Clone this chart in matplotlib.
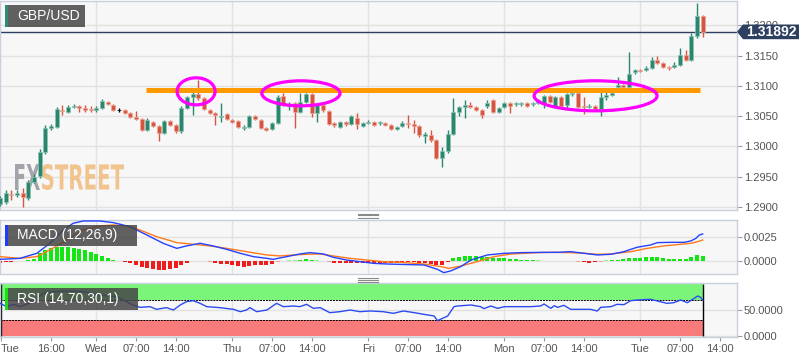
import numpy as np
import matplotlib.pyplot as plt
from matplotlib.patches import Ellipse, Polygon, PathPatch, Rectangle
from matplotlib.lines import Line2D
from matplotlib.textpath import TextPath
from matplotlib.font_manager import FontProperties
from matplotlib.transforms import Affine2D

plt.rcParams['font.family'] = ['Liberation Sans', 'DejaVu Sans']

W, H = 808, 363

# hourly candles; x = hours counted from Tue 00:00 of the first day (weekend gap removed)
hours = list(range(7, 132))
opens = [1.2905, 1.2908, 1.2922, 1.2920, 1.2923, 1.2915, 1.2941, 1.2951, 1.2991, 1.3031,
         1.3032, 1.3060, 1.3057, 1.3065, 1.3067, 1.3064, 1.3062, 1.3060, 1.3064, 1.3074,
         1.3069, 1.3060, 1.3060, 1.3055, 1.3049, 1.3045, 1.3027, 1.3041, 1.3034, 1.3022,
         1.3042, 1.3036, 1.3026, 1.3064, 1.3082, 1.3087, 1.3080, 1.3060, 1.3055, 1.3049,
         1.3054, 1.3044, 1.3042, 1.3031, 1.3032, 1.3050, 1.3044, 1.3031, 1.3029, 1.3039,
         1.3083, 1.3067, 1.3072, 1.3057, 1.3074, 1.3087, 1.3055, 1.3069, 1.3059, 1.3039,
         1.3032, 1.3041, 1.3037, 1.3047, 1.3034, 1.3039, 1.3041, 1.3039, 1.3039, 1.3036,
         1.3029, 1.3034, 1.3039, 1.3037, 1.3034, 1.3017, 1.3019, 1.3011, 1.2981, 1.2993,
         1.3021, 1.3057, 1.3065, 1.3069, 1.3065, 1.3060, 1.3067, 1.3077, 1.3057, 1.3065,
         1.3072, 1.3070, 1.3070, 1.3072, 1.3070, 1.3072, 1.3072, 1.3083, 1.3067, 1.3082,
         1.3069, 1.3087, 1.3088, 1.3067, 1.3065, 1.3067, 1.3062, 1.3082, 1.3085, 1.3098,
         1.3102, 1.3098, 1.3123, 1.3126, 1.3126, 1.3130, 1.3143, 1.3138, 1.3131, 1.3131,
         1.3135, 1.3151, 1.3143, 1.3183, 1.3216]
highs = [1.2918, 1.2928, 1.2928, 1.2928, 1.2931, 1.2945, 1.2955, 1.2996, 1.3036, 1.3037,
         1.3065, 1.3069, 1.3069, 1.3070, 1.3069, 1.3069, 1.3067, 1.3067, 1.3079, 1.3075,
         1.3070, 1.3064, 1.3062, 1.3057, 1.3059, 1.3047, 1.3047, 1.3042, 1.3036, 1.3044,
         1.3044, 1.3037, 1.3067, 1.3083, 1.3090, 1.3110, 1.3082, 1.3062, 1.3057, 1.3072,
         1.3055, 1.3045, 1.3044, 1.3036, 1.3052, 1.3052, 1.3045, 1.3032, 1.3041, 1.3085,
         1.3088, 1.3074, 1.3074, 1.3088, 1.3088, 1.3088, 1.3070, 1.3070, 1.3060, 1.3041,
         1.3042, 1.3042, 1.3052, 1.3055, 1.3041, 1.3044, 1.3042, 1.3042, 1.3041, 1.3037,
         1.3034, 1.3042, 1.3052, 1.3044, 1.3036, 1.3024, 1.3027, 1.3012, 1.2999, 1.3027,
         1.3080, 1.3067, 1.3077, 1.3074, 1.3067, 1.3062, 1.3077, 1.3079, 1.3065, 1.3074,
         1.3074, 1.3074, 1.3074, 1.3074, 1.3074, 1.3079, 1.3085, 1.3085, 1.3083, 1.3083,
         1.3088, 1.3090, 1.3090, 1.3082, 1.3070, 1.3069, 1.3097, 1.3093, 1.3095, 1.3115,
         1.3103, 1.3156, 1.3128, 1.3128, 1.3133, 1.3148, 1.3150, 1.3140, 1.3133, 1.3140,
         1.3163, 1.3159, 1.3188, 1.3237, 1.3217]
lows = [1.2902, 1.2905, 1.2912, 1.2917, 1.2900, 1.2912, 1.2940, 1.2948, 1.2988, 1.3027,
        1.3031, 1.3052, 1.3055, 1.3064, 1.3057, 1.3057, 1.3057, 1.3057, 1.3062, 1.3069,
        1.3059, 1.3057, 1.3054, 1.3047, 1.3044, 1.3026, 1.3026, 1.3032, 1.3009, 1.3021,
        1.3034, 1.3022, 1.3022, 1.3062, 1.3052, 1.3077, 1.3060, 1.3054, 1.3036, 1.3041,
        1.3044, 1.3039, 1.3031, 1.3027, 1.3031, 1.3044, 1.3029, 1.3026, 1.3027, 1.3037,
        1.3067, 1.3060, 1.3031, 1.3055, 1.3072, 1.3049, 1.3041, 1.3057, 1.3036, 1.3032,
        1.3031, 1.3034, 1.3036, 1.3029, 1.3032, 1.3037, 1.3034, 1.3036, 1.3034, 1.3027,
        1.3027, 1.3032, 1.3031, 1.3022, 1.3016, 1.3006, 1.3007, 1.2979, 1.2966, 1.2989,
        1.3019, 1.3050, 1.3047, 1.3064, 1.3059, 1.3047, 1.3064, 1.3055, 1.3055, 1.3064,
        1.3055, 1.3067, 1.3067, 1.3065, 1.3067, 1.3070, 1.3064, 1.3072, 1.3065, 1.3065,
        1.3062, 1.3083, 1.3064, 1.3054, 1.3064, 1.3060, 1.3050, 1.3077, 1.3083, 1.3097,
        1.3095, 1.3097, 1.3120, 1.3123, 1.3125, 1.3128, 1.3136, 1.3130, 1.3126, 1.3130,
        1.3133, 1.3141, 1.3141, 1.3179, 1.3181]
closes = [1.2915, 1.2923, 1.2920, 1.2923, 1.2917, 1.2941, 1.2950, 1.2991, 1.3031, 1.3034,
          1.3062, 1.3059, 1.3065, 1.3067, 1.3064, 1.3060, 1.3060, 1.3064, 1.3075, 1.3070,
          1.3060, 1.3060, 1.3055, 1.3049, 1.3045, 1.3027, 1.3044, 1.3034, 1.3022, 1.3042,
          1.3036, 1.3026, 1.3064, 1.3082, 1.3087, 1.3080, 1.3062, 1.3055, 1.3052, 1.3050,
          1.3045, 1.3041, 1.3032, 1.3032, 1.3050, 1.3045, 1.3031, 1.3027, 1.3039, 1.3082,
          1.3069, 1.3070, 1.3057, 1.3074, 1.3087, 1.3055, 1.3069, 1.3060, 1.3037, 1.3036,
          1.3041, 1.3037, 1.3050, 1.3037, 1.3039, 1.3041, 1.3036, 1.3040, 1.3036, 1.3029,
          1.3032, 1.3039, 1.3037, 1.3034, 1.3019, 1.3021, 1.3011, 1.2981, 1.2993, 1.3021,
          1.3057, 1.3065, 1.3069, 1.3065, 1.3060, 1.3052, 1.3072, 1.3057, 1.3064, 1.3072,
          1.3067, 1.3071, 1.3071, 1.3067, 1.3071, 1.3077, 1.3083, 1.3074, 1.3082, 1.3067,
          1.3087, 1.3088, 1.3065, 1.3065, 1.3067, 1.3062, 1.3082, 1.3085, 1.3088, 1.3102,
          1.3098, 1.3120, 1.3126, 1.3125, 1.3130, 1.3143, 1.3138, 1.3131, 1.3130, 1.3135,
          1.3151, 1.3143, 1.3183, 1.3216, 1.31892]

# MACD histogram, one bar per candle
macd_hist = [-0.0002, -0.00015, -0.0001, -0.00005, 0.00003, 0.0001, 0.00017, 0.0008, 0.00113, 0.0013,
             0.0014, 0.00148, 0.00144, 0.00137, 0.00127, 0.00113, 0.00093, 0.0007, 0.0005, 0.00034,
             0.0001, 0.00003, -0.0001, -0.00024, -0.0004, -0.00058, -0.00069, -0.00079, -0.00093, -0.00093,
             -0.00086, -0.00069, -0.0004, -0.00017, -0.00003, 0.0, -0.00003, -0.00007, -0.00024, -0.0003,
             -0.00034, -0.0004, -0.00048, -0.00058, -0.0005, -0.0004, -0.0004, -0.00045, -0.00034, -0.00007,
             0.00003, 0.00007, 0.00007, 0.0001, 0.00017, 0.00014, 0.00007, 0.0, -0.00007, -0.00017,
             -0.00024, -0.00024, -0.00024, -0.00024, -0.0002, -0.00017, -0.00017, -0.00017, -0.00017, -0.00017,
             -0.00017, -0.00017, -0.00014, -0.00014, -0.00017, -0.00017, -0.0003, -0.0004, -0.0004, -0.00013,
             0.00027, 0.00045, 0.00055, 0.00055, 0.00048, 0.00045, 0.0004, 0.00034, 0.00034, 0.00027,
             0.00024, 0.00017, 0.00014, 0.0001, 0.0001, 0.00007, 0.00003, 0.00003, 0.00003, 0.00003,
             0.00003, 0.0, -0.00007, -0.0001, -0.00017, -0.00014, -0.00007, 0.00007, 0.0001, 0.00014,
             0.0002, 0.00027, 0.00034, 0.00034, 0.00038, 0.0004, 0.00038, 0.00027, 0.0002, 0.00017,
             0.00017, 0.0002, 0.00045, 0.0006, 0.00055]

macd_x = [7.0, 10.5, 13.5, 15.8, 18.2, 19.9, 21.7, 24.6, 27.0, 29.9, 32.9, 35.8, 38.2, 39.9,
          42.3, 44.6, 47.0, 49.4, 51.7, 54.1, 55.2, 57.6, 59.9, 61.7, 64.1, 65.8, 68.2, 70.5,
          72.9, 75.2, 77.6, 81.8, 84.2, 85.3, 86.5, 88.3, 90.1, 93.0, 96.0, 98.9, 103.0, 105.4,
          107.7, 110.1, 112.4, 114.8, 117.1, 119.4, 121.8, 123.0, 125.3, 127.7, 128.9, 129.8,
          130.4, 131.0]
macd_line = [0.00017, 0.00027, 0.00079, 0.00182, 0.00319, 0.00388, 0.00412, 0.00412, 0.00395,
             0.00354, 0.00268, 0.00182, 0.0013, 0.00155, 0.00182, 0.00155, 0.0012, 0.00079,
             0.00045, 0.00027, 0.00017, 0.00045, 0.00072, 0.00086, 0.00072, 0.00038, 0.0001,
             -0.00007, -0.00024, -0.00031, -0.00035, -0.00041, -0.00086, -0.0012, -0.00103,
             -0.00058, 0.0001, 0.00062, 0.00079, 0.00086, 0.00089, 0.00089, 0.00096, 0.00079,
             0.00062, 0.00069, 0.00096, 0.00141, 0.00165, 0.00189, 0.00192, 0.00192, 0.00206,
             0.00233, 0.00268, 0.00278]
signal_x = [7.0, 10.5, 13.5, 15.8, 18.8, 21.7, 24.6, 27.0, 29.4, 31.7, 34.6, 38.2, 41.1, 44.1,
            47.0, 50.5, 54.1, 56.4, 58.8, 61.1, 63.5, 65.8, 68.8, 71.7, 74.6, 77.6, 81.8, 84.8,
            86.2, 88.3, 91.2, 94.2, 97.2, 101.9, 104.8, 107.7, 110.1, 112.4, 114.8, 118.3, 121.2,
            124.1, 127.1, 128.9, 130.1, 131.0]
signal_line = [0.00045, 0.00027, 0.00045, 0.00113, 0.00216, 0.00319, 0.0036, 0.00371, 0.0036,
               0.00319, 0.00251, 0.00189, 0.00172, 0.00155, 0.0013, 0.00096, 0.00062, 0.00052,
               0.00062, 0.00069, 0.00072, 0.00052, 0.00027, 0.0001, -0.00007, -0.00014, -0.00031,
               -0.00058, -0.00076, -0.00052, -0.00007, 0.00045, 0.00072, 0.00086, 0.00089, 0.00086,
               0.00079, 0.00069, 0.00072, 0.00096, 0.0013, 0.00155, 0.00172, 0.00182, 0.00199, 0.00216]

rsi_x = [7.0, 8.2, 9.4, 10.5, 12.9, 14.6, 16.4, 18.8, 21.7, 24.6,
         27.6, 30.5, 31.7, 33.5, 34.6, 36.4, 37.6, 38.8, 39.9, 41.1,
         42.3, 43.5, 45.8, 48.2, 49.4, 50.5, 51.1, 52.3, 54.1, 55.8,
         57.0, 58.8, 59.9, 61.1, 62.3, 63.5, 65.2, 67.0, 68.8, 70.5,
         72.3, 74.6, 76.4, 78.2, 80.1, 81.8, 83.6, 84.2, 86.0, 87.1,
         87.7, 90.1, 91.8, 92.4, 93.6, 94.8, 96.0, 98.3, 100.6, 102.4,
         103.0, 104.2, 104.8, 105.4, 106.5, 107.7, 111.2, 112.4, 113.0, 114.8,
         115.9, 117.1, 118.3, 119.4, 121.8, 123.0, 124.7, 125.9, 127.1, 128.3,
         129.5, 130.1, 130.6, 131.0]
rsi = [62.8, 56.4, 60.9, 56.4, 66.0, 82.1, 85.3, 86.6, 85.3, 78.8,
       75.6, 59.6, 55.1, 56.4, 51.3, 54.5, 50.0, 59.6, 66.0, 67.9,
       62.8, 56.4, 54.5, 51.3, 46.8, 50.0, 54.5, 46.8, 50.0, 62.8,
       56.4, 57.7, 56.4, 60.9, 53.2, 54.5, 44.9, 46.8, 50.0, 46.8,
       48.1, 46.8, 43.6, 48.1, 44.9, 41.7, 38.5, 29.5, 38.5, 56.4,
       57.7, 59.6, 56.4, 52.6, 57.7, 53.2, 56.4, 56.4, 56.4, 57.7,
       61.5, 53.2, 58.3, 55.1, 59.0, 51.3, 51.3, 48.1, 55.1, 56.4,
       60.9, 60.3, 67.9, 69.2, 70.5, 67.3, 62.8, 64.1, 69.2, 64.1,
       72.4, 76.9, 74.4, 69.2]

tick_hours = [7.15, 16, 24, 31, 38, 48, 55, 62, 72, 79, 86, 96, 103, 110, 120, 127, 134]
tick_labels = ['Tue', '16:00', 'Wed', '07:00', '14:00', 'Thu', '07:00', '14:00', 'Fri',
               '07:00', '14:00', 'Mon', '07:00', '14:00', 'Tue', '07:00', '14:00']
day_starts = [24, 48, 72, 96, 120]

resistance = 1.30929

GREEN = '#2a876e'
RED = '#d65541'
BORDER = '#c9cfdc'
GRID = '#e2e2e2'
TXT = '#555555'
XLIM = (7.0, 137.05)

fig = plt.figure(figsize=(W / 100, H / 100), dpi=100)
fig.patch.set_facecolor('white')


def px_rect(x0, y0, x1, y1):
    return [x0 / W, 1 - y1 / H, (x1 - x0) / W, (y1 - y0) / H]


def fxy(x, y):
    return (x / W, 1 - y / H)


ax = fig.add_axes(px_rect(0, 1, 737, 210))
ax_m = fig.add_axes(px_rect(0, 220, 737, 274))
ax_r = fig.add_axes(px_rect(0, 283, 737, 337))

for a in (ax, ax_m, ax_r):
    a.set_facecolor('#f7f7f7')
    a.set_xlim(*XLIM)
    for s in a.spines.values():
        s.set_color(BORDER)
        s.set_linewidth(1)
    a.yaxis.tick_right()
    a.tick_params(axis='y', colors='#999999', labelcolor=TXT, labelsize=8,
                  length=3.5, width=0.8, pad=1.5)
    a.grid(axis='y', color=GRID, lw=1, zorder=0)
    a.set_axisbelow(True)
    for d in day_starts:
        a.axvline(d, color=GRID, lw=1, zorder=0.5)

ax.tick_params(axis='x', bottom=False, labelbottom=False)
ax_m.tick_params(axis='x', bottom=False, labelbottom=False)

# ---- price panel
hrs = np.array(hours)
o, hi, lo, c = map(np.array, (opens, highs, lows, closes))
col = np.where(c > o, GREEN, np.where(c < o, RED, 'black'))
edge = np.where(c > o, '#8cc3b3', np.where(c < o, '#eea79a', 'black'))
ax.vlines(hrs, lo, hi, colors=col, lw=1, zorder=3)
ax.bar(hrs, np.maximum(np.abs(c - o), 0.00005), bottom=np.minimum(o, c), width=0.74,
       color=col, edgecolor=edge, lw=0.5, zorder=4)

ax.set_ylim(1.2895, 1.3240)
ax.set_yticks(np.arange(1.29, 1.3201, 0.005))
ax.set_yticklabels([f'{v:.4f}' for v in np.arange(1.29, 1.3201, 0.005)])

# FXStreet watermark (stretched glyph paths, pixel coordinates)
fp = FontProperties(family='DejaVu Sans', weight='bold')


def wm(s, x0, y0, x1, y1, color):
    tp = TextPath((0, 0), s, size=1, prop=fp)
    bb = tp.get_extents()
    tr = (Affine2D().translate(-bb.x0, -bb.y0)
          .scale((x1 - x0) / bb.width, (y1 - y0) / bb.height)
          .translate(x0, H - y1))
    ax.add_artist(PathPatch(tp, transform=tr, color=color, lw=0, zorder=1))


wm('FX', 15, 164, 40, 190, '#a3a3aa')
wm('STREET', 42, 164, 124, 190, '#f1c48e')

ax.axhline(closes[-1], color='#2d4060', lw=1, zorder=2.5)
ax.hlines(resistance, 32.8, 130.5, color='#ff9900', lw=3.6, zorder=6)
for cx, cy, w, h in [(41.6, 1.30909, 6.7, 0.00446),
                     (60.1, 1.30876, 13.8, 0.00413),
                     (112.1, 1.30835, 21.7, 0.00496)]:
    ax.add_patch(Ellipse((cx, cy), w, h, fill=False, ec='#ff00ff', lw=2.3, zorder=7))

# ---- MACD panel
hv = np.array(macd_hist)
hcol = np.where(hv >= 0, np.where(hv > 0.00009, '#14e614', '#93ee93'),
                np.where(hv < -0.00009, '#f01c1c', '#f5a0a0'))
ax_m.bar(hrs, hv, width=0.74, color=hcol, zorder=2)
ax_m.plot(signal_x, signal_line, color='#ff7a1a', lw=1, zorder=3)
ax_m.plot(macd_x, macd_line, color='#2442ff', lw=1, zorder=4)
ax_m.set_ylim(-0.00134, 0.00422)
ax_m.set_yticks([0.0, 0.0025])
ax_m.set_yticklabels(['0.0000', '0.0025'])

# ---- RSI panel
x_end = hours[-1] + 0.1
x0 = XLIM[0]
ax_r.add_patch(Rectangle((x0, 70), x_end - x0, 30, color='#7af57a', lw=0, zorder=1))
ax_r.add_patch(Rectangle((x0, 0), x_end - x0, 30, color='#f87b7b', lw=0, zorder=1))
ax_r.hlines([70, 30], x0, x_end, colors='black', linestyles=(0, (2, 1)), lw=0.7, zorder=2)
ax_r.vlines([x0 + 0.1, x_end], [0, 0], [100, 100], colors='black', lw=1, zorder=2)
ax_r.plot(rsi_x, rsi, color='#2a4bf0', lw=1, zorder=3)
ax_r.set_ylim(-1.9, 101.9)
ax_r.set_yticks([0, 50])
ax_r.set_yticklabels(['0.0000', '50.0000'])
ax_r.set_xticks(tick_hours)
ax_r.set_xticklabels(tick_labels)
ax_r.tick_params(axis='x', colors='#999999', labelcolor=TXT, labelsize=8,
                 length=3, width=0.8, pad=2)
ax_r.get_xticklabels()[0].set_horizontalalignment('left')

# ---- overlay labels (pixel layout)
def label_box(x0, y0, x1, y1, stripe, text):
    fig.add_artist(Rectangle(fxy(x0, y1), (x1 - x0) / W, (y1 - y0) / H,
                             transform=fig.transFigure, fc=(0.27, 0.27, 0.27, 0.85),
                             lw=0, zorder=10))
    fig.add_artist(Rectangle(fxy(x0, y1), 2.5 / W, (y1 - y0) / H,
                             transform=fig.transFigure, fc=stripe, lw=0, zorder=11))
    fig.text((x0 + 12) / W, 1 - (y0 + y1) / 2 / H, text, color='white', fontsize=10,
             va='center', ha='left', zorder=12)


label_box(5, 5, 85, 27, '#2e8b74', 'GBP/USD')
label_box(5, 225, 137, 246, '#1e3cff', 'MACD (12,26,9)')
label_box(5, 288, 138, 310, '#18e018', 'RSI (14,70,30,1)')

# current price tag
tag = [fxy(737, 31.8), fxy(743, 24.5), fxy(799, 24.5), fxy(799, 39.2), fxy(743, 39.2)]
fig.add_artist(Polygon(tag, closed=True, transform=fig.transFigure, fc='#2d4060',
                       lw=0, zorder=10))
fig.text(771 / W, 1 - 31.9 / H, f'{closes[-1]:.5f}', color='white', fontsize=10,
         fontweight='bold', ha='center', va='center', zorder=11)

# panel resize handles
for yc in (215.5, 279.7):
    for dy in (-2, 0, 2):
        fig.add_artist(Line2D([358 / W, 378 / W], [1 - (yc + dy) / H] * 2,
                              transform=fig.transFigure, color='#8a8a8a', lw=0.8))

fig.savefig('out.png', dpi=100)
